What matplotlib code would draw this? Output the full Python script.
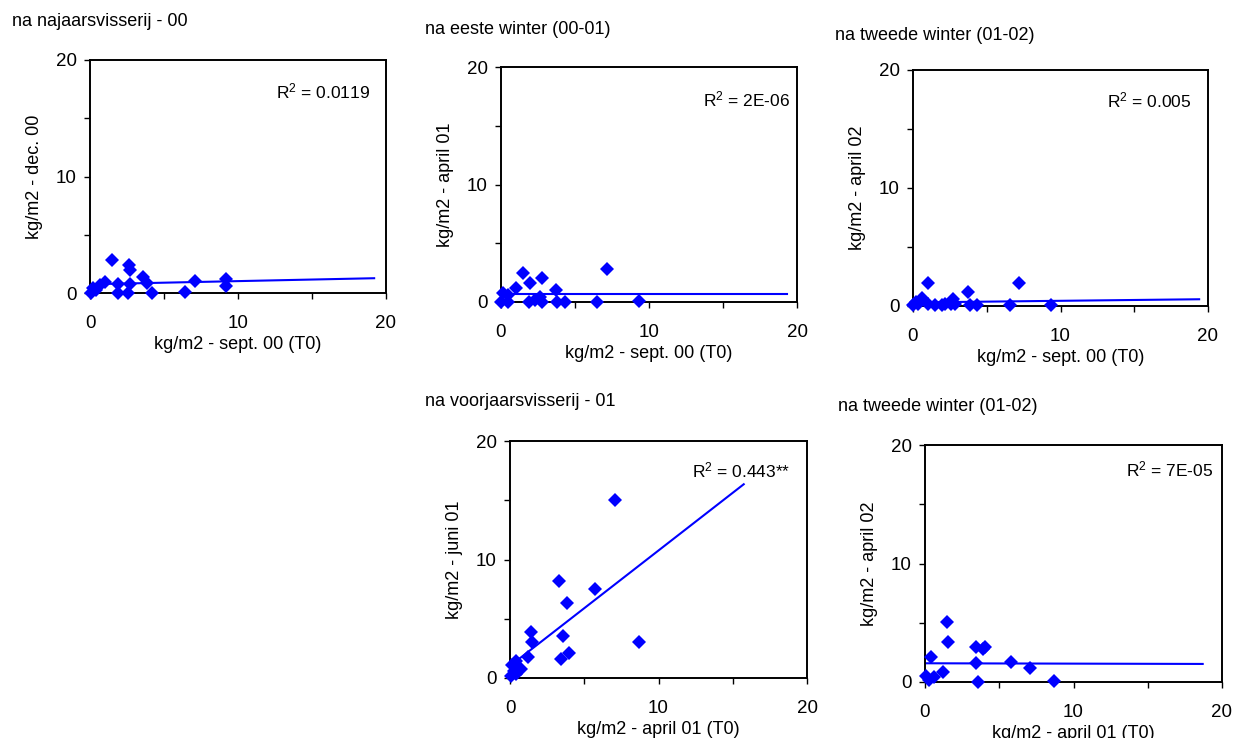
import matplotlib
matplotlib.use("Agg")
import matplotlib.pyplot as plt
from matplotlib.ticker import MultipleLocator

plt.rcParams["font.family"] = ["Liberation Sans", "DejaVu Sans"]
plt.rcParams["mathtext.fontset"] = "custom"
plt.rcParams["mathtext.rm"] = "Liberation Sans"
plt.rcParams["mathtext.it"] = "Liberation Sans:italic"
plt.rcParams["font.size"] = 13

# ---------------------------------------------------------
# Data
# ---------------------------------------------------------
titles = ["na najaarsvisserij - 00", "na eeste winter (00-01)", "na tweede winter (01-02)",
          "na voorjaarsvisserij - 01", "na tweede winter (01-02)"]
xlabels = ["kg/m2 - sept. 00 (T0)", "kg/m2 - sept. 00 (T0)", "kg/m2 - sept. 00 (T0)",
           "kg/m2 - april 01 (T0)", "kg/m2 - april 01 (T0)"]
ylabels = ["kg/m2 - dec. 00", "kg/m2 - april 01", "kg/m2 - april 02",
           "kg/m2 - juni 01", "kg/m2 - april 02"]
r2_labels = ["0.0119", "2E-06", "0.005", "0.443**", "7E-05"]

x1 = [1.47, 2.64, 2.7, 3.6, 3.83, 1.0, 0.68, 1.9, 2.7, 7.1, 9.17, 9.17,
      0.1, 0.4, 0.2, 1.87, 2.6, 4.2, 6.45]
y1 = [2.83, 2.4, 1.97, 1.4, 0.9, 0.97, 0.69, 0.74, 0.74, 1.06, 1.17, 0.6,
      0.0, 0.3, 0.4, 0.0, 0.0, 0.0, 0.05]

x2 = [1.51, 1.96, 2.75, 7.18, 1.0, 0.5, 0.16, 3.7, 2.64, 0.0, 0.5, 1.9,
      2.3, 2.75, 3.8, 4.3, 6.5, 9.3]
y2 = [2.44, 1.6, 2.02, 2.8, 1.17, 0.6, 0.74, 1.02, 0.45, 0.0, 0.0, 0.0,
      0.2, 0.0, 0.0, 0.0, 0.0, 0.1]

x3 = [1.03, 7.18, 3.7, 0.59, 2.73, 0.02, 0.36, 1.03, 1.49, 1.94, 2.16,
      2.6, 2.84, 3.85, 4.35, 6.55, 9.37, 0.2]
y3 = [1.92, 1.92, 1.16, 0.7, 0.57, 0.1, 0.2, 0.15, 0.12, 0.1, 0.15,
      0.2, 0.15, 0.1, 0.1, 0.12, 0.1, 0.35]

x4 = [7.04, 3.30, 5.72, 3.81, 1.43, 1.50, 3.59, 8.68, 1.23, 3.41, 3.97,
      0.38, 0.72, 0.16, 0.27, 0.04, 0.38]
y4 = [15.0, 8.15, 7.55, 6.31, 3.90, 3.00, 3.56, 3.06, 1.75, 1.64, 2.07,
      1.41, 0.79, 1.13, 0.57, 0.14, 0.34]

x5 = [1.47, 1.54, 3.44, 3.91, 4.02, 0.38, 3.42, 5.76, 7.10, 1.23, 0.63,
      0.07, 0.29, 3.59, 8.66]
y5 = [5.08, 3.40, 2.95, 2.78, 2.92, 2.13, 1.60, 1.69, 1.21, 0.84, 0.42,
      0.53, 0.2, 0.0, 0.08]

xs = [x1, x2, x3, x4, x5]
ys = [y1, y2, y3, y4, y5]

# trendlines (intercept, slope, end of line on x)
trend_intercept = [0.75, 0.68, 0.30, 1.02, 1.58]
trend_slope = [0.027, 0.0, 0.014, 0.974, -0.003]
trend_xend = [19.2, 19.3, 19.4, 15.74, 18.7]

# ---------------------------------------------------------
# Layout (pixels in a 1240x738 figure)
# ---------------------------------------------------------
W, H = 1240, 738
boxes = [(90, 60, 386, 293), (501, 67, 797, 302), (913, 70, 1208, 306),
         (510, 441, 807, 678), (925, 445, 1222, 682)]
title_pos = [(12, 22), (425, 30), (835, 35), (425, 402), (838, 407)]
r2_pos = [(0.946, 0.863), (0.976, 0.86), (0.945, 0.873), (0.945, 0.877), (0.97, 0.895)]

fig = plt.figure(figsize=(W / 100, H / 100), dpi=100)

for i in range(5):
    l, t, r, b = boxes[i]
    ax = fig.add_axes([l / W, 1 - b / H, (r - l) / W, (b - t) / H])
    ax.plot(xs[i], ys[i], linestyle="none", marker="D", markersize=7,
            color="#0000ff", markeredgewidth=0, clip_on=False, zorder=3)
    xe = trend_xend[i]
    ax.plot([0, xe], [trend_intercept[i], trend_intercept[i] + trend_slope[i] * xe],
            color="#0000ff", linewidth=1.5, zorder=2)

    ax.set_xlim(0, 20)
    ax.set_ylim(0, 20)
    ax.xaxis.set_major_locator(MultipleLocator(10))
    ax.xaxis.set_minor_locator(MultipleLocator(5))
    ax.yaxis.set_major_locator(MultipleLocator(10))
    ax.yaxis.set_minor_locator(MultipleLocator(5))
    ax.tick_params(which="both", direction="out", length=4.5, width=1, color="black",
                   top=False, right=False)
    ax.tick_params(axis="x", which="major", pad=11, labelsize=13.5)
    ax.tick_params(axis="y", which="major", pad=5, labelsize=13.5)
    for sp in ax.spines.values():
        sp.set_linewidth(1.4)
        sp.set_color("black")

    ax.set_xlabel(xlabels[i], fontsize=13, labelpad=3)
    ax.set_ylabel(ylabels[i], fontsize=13, labelpad=9)

    ax.text(r2_pos[i][0], r2_pos[i][1], r"R$^2$ = " + r2_labels[i],
            transform=ax.transAxes, ha="right", va="center", fontsize=12.5)

    fig.text(title_pos[i][0] / W, 1 - title_pos[i][1] / H, titles[i],
             ha="left", va="center", fontsize=13)

fig.savefig("out.png", dpi=100)
